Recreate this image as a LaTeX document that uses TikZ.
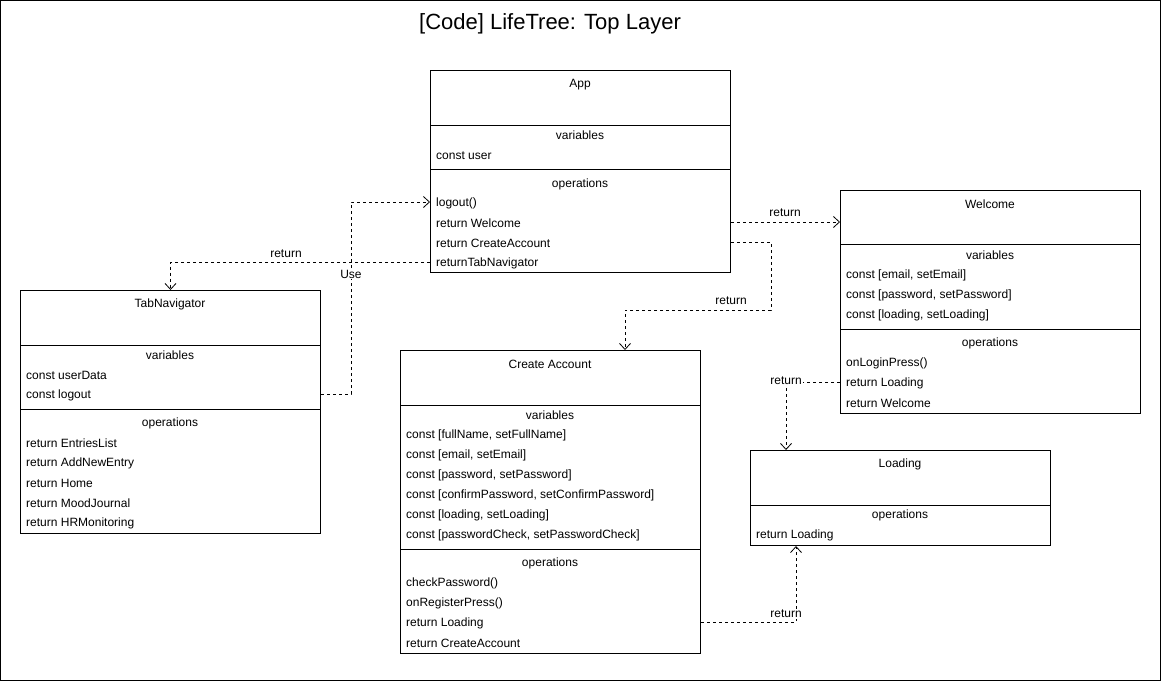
\documentclass[tikz,border=0pt]{standalone}
\usepackage{fontspec}
\setmainfont{Liberation Sans}
\usetikzlibrary{arrows.meta}
\begin{document}
\begin{tikzpicture}[x=1pt,y=-1pt,
 box/.style={draw, line width=1pt, anchor=north west, inner sep=0, minimum width=300pt},
 sep/.style={line width=1pt},
 txt/.style={font=\fontsize{12}{14}\selectfont, inner sep=0, yshift=-1pt},
 row/.style={txt, anchor=west},
 dep/.style={draw, line width=0.8pt, dash pattern=on 3pt off 3pt, -{Straight Barb[length=6pt,width=11pt]}},
 lbl/.style={txt, fill=white, inner sep=1pt}]
\useasboundingbox (0,0) rectangle (1161,681);
\draw[line width=1pt] (0.5,0.5) rectangle (1160.5,680.5);
\node[font=\fontsize{22}{26}\selectfont, inner sep=0] (title) at (550,24) {[Code] LifeTree: Top Layer};

% App
\node[box, minimum height=202pt] (app) at (430,70) {};
\node[txt] (appT) at (580,84) {App};
\draw[sep] (430,125) -- (730,125);
\node[txt] (appV) at (580,134) {variables};
\node[row] (appUser) at (436,155) {const user};
\draw[sep] (430,169) -- (730,169);
\node[txt] (appO) at (580,183) {operations};
\node[row] (appLogout) at (436,202) {logout()};
\node[row] (appWel) at (436,222) {return Welcome};
\node[row] (appCA) at (436,242) {return CreateAccount};
\node[row] (appTab) at (436,262) {returnTabNavigator};

% Welcome
\node[box, minimum height=223pt] (wel) at (840,190) {};
\node[txt] (welT) at (990,203) {Welcome};
\draw[sep] (840,244) -- (1140,244);
\node[txt] (welV) at (990,254) {variables};
\node[row] (welE) at (846,274) {const [email, setEmail]};
\node[row] (welP) at (846,294) {const [password, setPassword]};
\node[row] (welL) at (846,314) {const [loading, setLoading]};
\draw[sep] (840,329) -- (1140,329);
\node[txt] (welO) at (990,342) {operations};
\node[row] (welLogin) at (846,362) {onLoginPress()};
\node[row] (welLoad) at (846,382) {return Loading};
\node[row] (welWel) at (846,402) {return Welcome};

% TabNavigator
\node[box, minimum height=243pt] (tab) at (20,290) {};
\node[txt] (tabT) at (170,303) {TabNavigator};
\draw[sep] (20,345) -- (320,345);
\node[txt] (tabV) at (170,354) {variables};
\node[row] (tabUser) at (26,374) {const userData};
\node[row] (tabLogout) at (26,394) {const logout};
\draw[sep] (20,409) -- (320,409);
\node[txt] (tabO) at (170,422) {operations};
\node[row] (tabR1) at (26,442) {return EntriesList};
\node[row] (tabR2) at (26,462) {return AddNewEntry};
\node[row] (tabR3) at (26,482) {return Home};
\node[row] (tabR4) at (26,502) {return MoodJournal};
\node[row] (tabR5) at (26,522) {return HRMonitoring};

% Create Account
\node[box, minimum height=303pt] (ca) at (400,350) {};
\node[txt] (caT) at (550,363) {Create Account};
\draw[sep] (400,405) -- (700,405);
\node[txt] (caV) at (550,414) {variables};
\node[row] (caV1) at (406,434) {const [fullName, setFullName]};
\node[row] (caV2) at (406,454) {const [email, setEmail]};
\node[row] (caV3) at (406,474) {const [password, setPassword]};
\node[row] (caV4) at (406,494) {const [confirmPassword, setConfirmPassword]};
\node[row] (caV5) at (406,514) {const [loading, setLoading]};
\node[row] (caV6) at (406,534) {const [passwordCheck, setPasswordCheck]};
\draw[sep] (400,549) -- (700,549);
\node[txt] (caO) at (550,562) {operations};
\node[row] (caCheck) at (406,582) {checkPassword()};
\node[row] (caReg) at (406,602) {onRegisterPress()};
\node[row] (caLoad) at (406,622) {return Loading};
\node[row] (caCA) at (406,642) {return CreateAccount};

% Loading
\node[box, minimum height=95pt] (load) at (750,450) {};
\node[txt] (loadT) at (900,463) {Loading};
\draw[sep] (750,505) -- (1050,505);
\node[txt] (loadO) at (900,514) {operations};
\node[row] (loadR) at (756,534) {return Loading};

% connectors
\draw[dep] ([yshift=1pt]app.west |- appTab) -| (tab.north);
\node[lbl] (l1) at (286,253) {return};

\draw[dep] ([yshift=1pt]tab.east |- tabLogout) -- ++(30,0) |- ([yshift=1pt]app.west |- appLogout);
\node[lbl] (l2) at (351,273) {Use};

\draw[dep] ([yshift=1pt]app.east |- appWel) -- ([yshift=1pt]wel.west |- appWel);
\node[lbl] (l3) at (785,212) {return};

\draw[dep] ([yshift=1pt]app.east |- appCA) -- ++(40,0) |- ([xshift=225pt,yshift=40pt]ca.north west) -- ([xshift=225pt]ca.north west);
\node[lbl] (l4) at (731,300) {return};

\draw[dep] ([yshift=1pt]wel.west |- welLoad) -| ([xshift=36pt]load.north west);
\node[lbl] (l5) at (786,380) {return};

\draw[dep] ([yshift=1pt]ca.east |- caLoad) -| ([xshift=46pt]load.south west);
\node[lbl] (l6) at (786,613) {return};
\end{tikzpicture}
\end{document}
